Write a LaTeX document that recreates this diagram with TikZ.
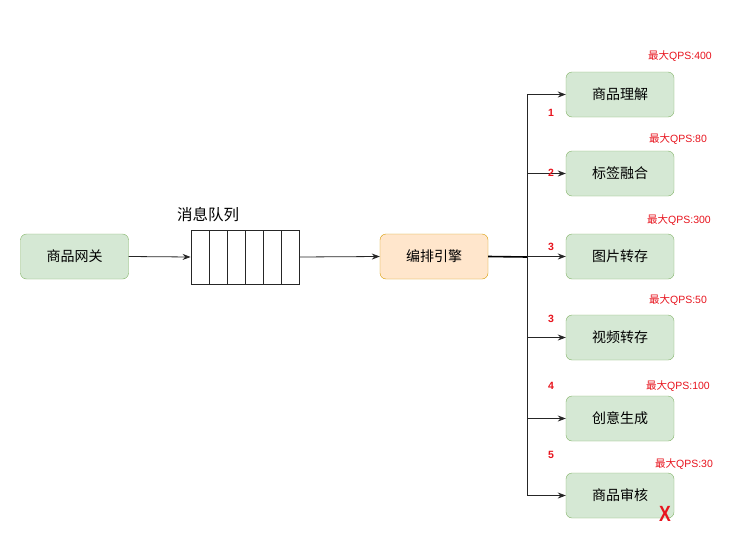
\documentclass[tikz,border=0pt]{standalone}
\usepackage{fontspec}
\setmainfont{Liberation Sans}
\newfontfamily\cjk{Noto Sans CJK SC}
\usetikzlibrary{arrows.meta}
\definecolor{gfill}{HTML}{D5E8D4}
\definecolor{gline}{HTML}{82B366}
\definecolor{ofill}{HTML}{FFE6CC}
\definecolor{oline}{HTML}{D79B00}
\definecolor{qred}{HTML}{E8141E}
\newcommand{\zh}[1]{{\cjk #1}}
\begin{document}
\begin{tikzpicture}[x=1pt,y=-1pt,
  gbox/.style={draw=gline,fill=gfill,rounded corners=6pt,minimum width=108pt,minimum height=45pt,inner sep=0pt,font=\cjk\fontsize{14}{16}\selectfont},
  obox/.style={draw=oline,fill=ofill,rounded corners=6pt,minimum width=108pt,minimum height=45pt,inner sep=0pt,font=\cjk\fontsize{14}{16}\selectfont},
  qps/.style={text=qred,font=\fontsize{10.5}{12}\selectfont,inner sep=0pt},
  num/.style={text=qred,font=\bfseries\fontsize{10.5}{12}\selectfont,inner sep=0pt},
  conn/.style={draw=black!85,line width=0.8pt,-{Stealth[length=8pt,width=6pt]}},
  cell/.style={draw=black!85,line width=0.8pt,minimum width=18pt,minimum height=54pt,inner sep=0pt}
]
\useasboundingbox (0,0) rectangle (755,549);
\fill[white] (0,0) rectangle (755,549);

\node[gbox] (gw) at (74.5,256.5) {商品网关};

% queue cells
\foreach \i in {0,...,5}{
  \node[cell] (c\i) at (200+18*\i,257) {};
}
\node[inner sep=0pt,font=\cjk\fontsize{15.5}{17}\selectfont] (ql) at (208,215) {消息队列};

\node[obox] (eng) at (434,256.5) {编排引擎};

\node[gbox] (b1) at (620,94.5) {商品理解};
\node[gbox] (b2) at (620,173.5) {标签融合};
\node[gbox] (b3) at (620,256.5) {图片转存};
\node[gbox] (b4) at (620,337.5) {视频转存};
\node[gbox] (b5) at (620,418.5) {创意生成};
\node[gbox] (b6) at (620,495.5) {商品审核};

\draw[conn] (gw.east) -- (c0.west);
\draw[conn] (c5.east) -- (eng.west);

\coordinate (j) at (527,257);
\draw[draw=black,line width=1.6pt] (eng.east) -- (j);
\draw[draw=black!85,line width=0.8pt] (j |- b1.west) -- (j |- b6.west);
\foreach \k in {1,...,6}{
  \draw[conn] (j |- b\k.west) -- (b\k.west);
}

\node[qps] (q1) at (680,56) {\zh{最大}QPS:400};
\node[qps] (q2) at (678,139) {\zh{最大}QPS:80};
\node[qps] (q3) at (679,220) {\zh{最大}QPS:300};
\node[qps] (q4) at (678,300) {\zh{最大}QPS:50};
\node[qps] (q5) at (678,386) {\zh{最大}QPS:100};
\node[qps] (q6) at (684,464) {\zh{最大}QPS:30};

\node[num] (n1) at (551,113) {1};
\node[num] (n2) at (551,173) {2};
\node[num] (n3) at (551,247) {3};
\node[num] (n4) at (551,319) {3};
\node[num] (n5) at (551,386) {4};
\node[num] (n6) at (551,455) {5};

\node[text=qred,font=\bfseries\fontsize{22}{22}\selectfont,inner sep=0pt,xscale=0.8] (x) at (665,514) {X};
\end{tikzpicture}
\end{document}
